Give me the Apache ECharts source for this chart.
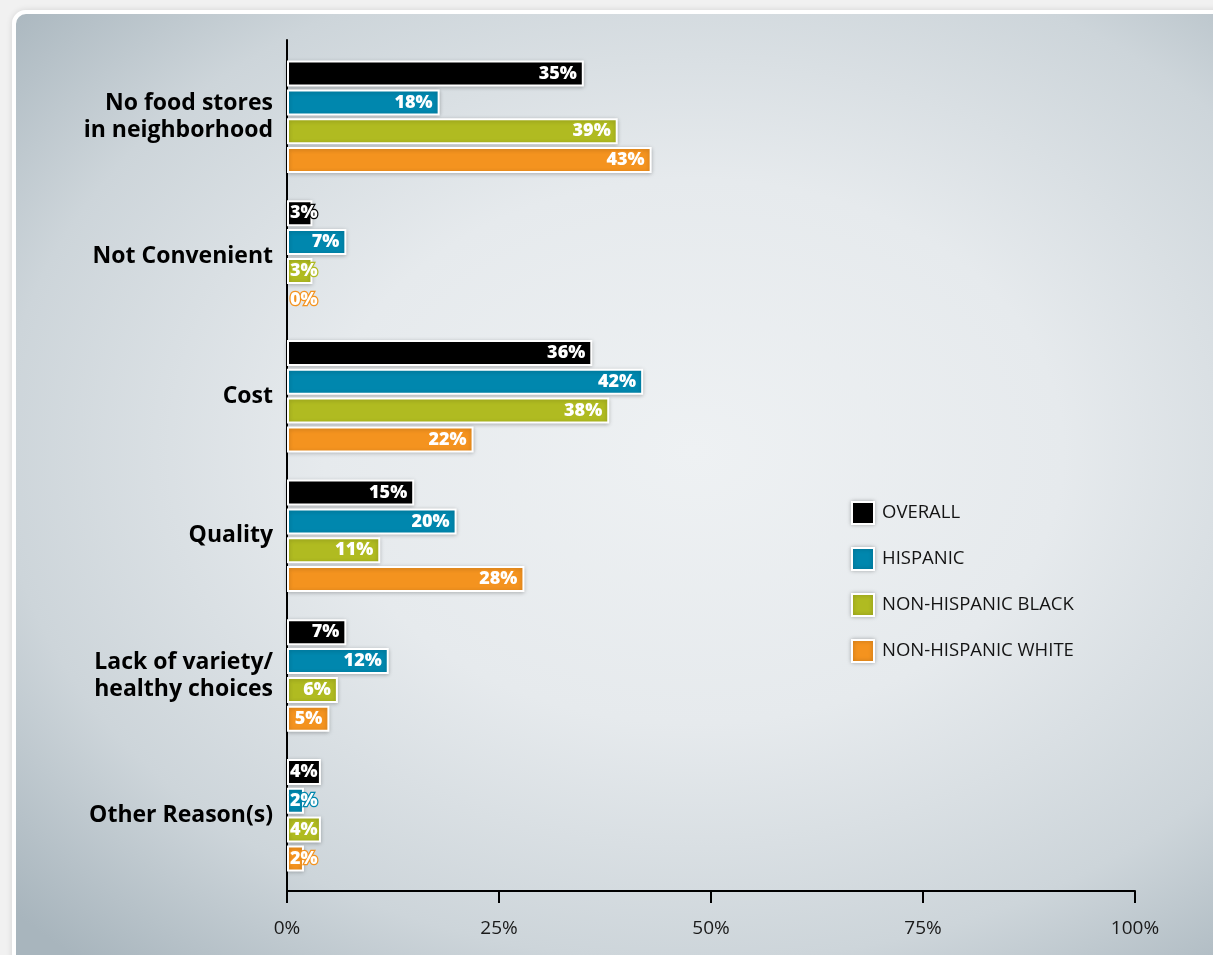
<!DOCTYPE html>
<html>
<head>
<meta charset="utf-8">
<script src="https://cdn.jsdelivr.net/npm/echarts@6/dist/echarts.min.js"></script>
<style>
  html, body { margin: 0; padding: 0; width: 1213px; height: 955px; overflow: hidden; background: #f1f1f1; }
  #card {
    position: absolute; left: 12px; top: 10px; width: 1240px; height: 980px;
    border: 4px solid #ffffff; border-radius: 14px; box-sizing: border-box;
    box-shadow: 0 0 6px rgba(0,0,0,0.12);
    background: radial-gradient(ellipse 75% 70% at 55% 45%, #eef1f3 0%, #e6eaed 40%, #cdd5da 75%, #a8b5bd 100%);
  }
  #chart { position: absolute; left: 0; top: 0; width: 1213px; height: 955px; }
</style>
</head>
<body>
<div id="card"></div>
<div id="chart"></div>
<script>
const categories = [
  'No food stores\nin neighborhood',
  'Not Convenient',
  'Cost',
  'Quality',
  'Lack of variety/\nhealthy choices',
  'Other Reason(s)'
];
const seriesNames = ['OVERALL', 'HISPANIC', 'NON-HISPANIC BLACK', 'NON-HISPANIC WHITE'];
const overall          = [35, 3, 36, 15, 7, 4];
const hispanic         = [18, 7, 42, 20, 12, 2];
const nonHispanicBlack = [39, 3, 38, 11, 6, 4];
const nonHispanicWhite = [43, 0, 22, 28, 5, 2];
const xTicks = [0, 25, 50, 75, 100];

const colors = ['#000000', '#0087ae', '#b0bb21', '#f4931f'];
const values = [overall, hispanic, nonHispanicBlack, nonHispanicWhite];

function makeSeries(i) {
  return {
    name: seriesNames[i],
    type: 'bar',
    xAxisIndex: 0,
    yAxisIndex: 0,
    barWidth: 26,
    barGap: '11%',
    itemStyle: {
      color: colors[i],
      borderColor: '#ffffff',
      borderWidth: 2,
      shadowColor: 'rgba(0,0,0,0.22)',
      shadowBlur: 4,
      shadowOffsetY: 1
    },
    data: values[i].map(v => {
      const small = v <= 4;
      const d = {
        value: v,
        label: {
          show: true,
          position: small ? 'insideLeft' : 'insideRight',
          distance: small ? 3 : 7,
          formatter: '{c}%',
          color: '#ffffff',
          fontFamily: 'Open Sans',
          fontWeight: 800,
          fontSize: 18,
          textBorderColor: colors[i],
          textBorderWidth: 2.5
        }
      };
      if (v === 0) d.itemStyle = { borderWidth: 0, shadowBlur: 0 };
      return d;
    })
  };
}

const chart = echarts.init(document.getElementById('chart'), null, { renderer: 'canvas' });
chart.setOption({
  backgroundColor: 'transparent',
  animation: false,
  legend: {
    orient: 'vertical',
    left: 846,
    top: 496,
    icon: 'rect',
    itemWidth: 22,
    itemHeight: 22,
    itemGap: 22,
    data: seriesNames,
    itemStyle: { borderColor: '#ffffff', borderWidth: 2, shadowColor: 'rgba(0,0,0,0.25)', shadowBlur: 4 },
    textStyle: { fontFamily: 'Open Sans', fontSize: 18.5, lineHeight: 22, color: '#141414', padding: [0, 0, 0, 3] }
  },
  grid: [
    // bars and category labels
    { left: 287, right: 78, top: 47, bottom: 70 },
    // axis frame
    { left: 287, right: 78, top: 40, bottom: 64 }
  ],
  xAxis: [
    {
      gridIndex: 0, type: 'value', min: 0, max: 100, interval: 25,
      show: false
    },
    {
      gridIndex: 1, type: 'value', min: 0, max: 100, interval: 25,
      axisLine: { show: true, lineStyle: { color: '#000000', width: 2 } },
      axisTick: { show: true, length: 12, lineStyle: { color: '#000000', width: 2 } },
      splitLine: { show: false },
      axisLabel: {
        margin: 28,
        fontFamily: 'Open Sans',
        fontSize: 19,
        color: '#1a1a1a',
        formatter: v => xTicks.includes(v) ? v + '%' : ''
      }
    }
  ],
  yAxis: [
    {
      gridIndex: 0,
      type: 'category',
      inverse: true,
      data: categories,
      axisLine: { show: false },
      axisTick: { show: false },
      axisLabel: {
        margin: 14,
        fontFamily: 'Open Sans',
        fontWeight: 'bold',
        fontSize: 23,
        lineHeight: 27,
        color: '#000000',
        align: 'right'
      }
    },
    {
      gridIndex: 1,
      type: 'value', min: 0, max: 1,
      axisLine: { show: true, lineStyle: { color: '#000000', width: 2 } },
      axisTick: { show: false },
      axisLabel: { show: false },
      splitLine: { show: false }
    }
  ],
  series: [0, 1, 2, 3].map(makeSeries)
});
</script>
</body>
</html>
